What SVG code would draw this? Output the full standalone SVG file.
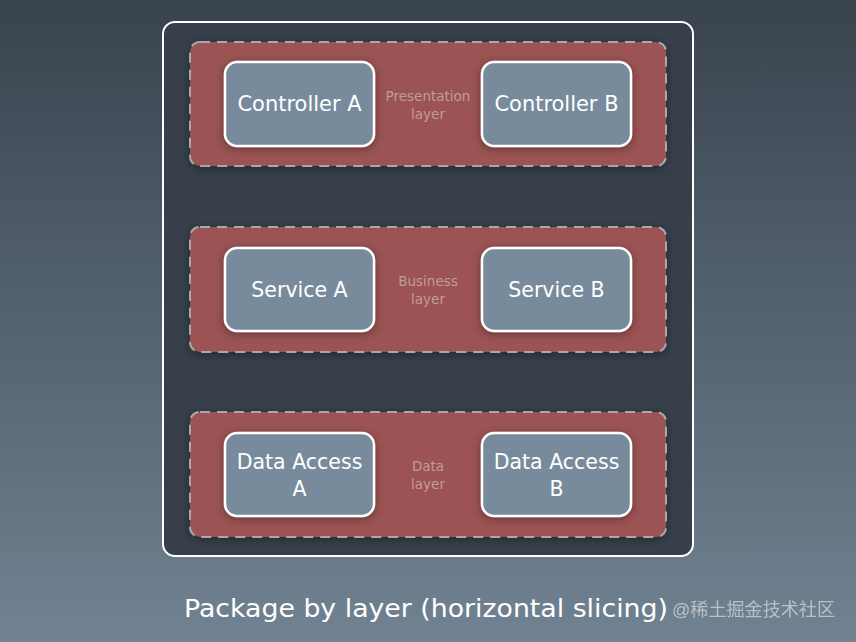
<svg xmlns="http://www.w3.org/2000/svg" width="856" height="642" viewBox="0 0 856 642">
<defs>
<linearGradient id="bg" x1="0" y1="0" x2="0" y2="1">
<stop offset="0" stop-color="#39434e"/>
<stop offset="1" stop-color="#718292"/>
</linearGradient>
<filter id="sh" x="-20%" y="-20%" width="140%" height="140%">
<feDropShadow dx="0" dy="2" stdDeviation="4" flood-color="#000" flood-opacity="0.35"/>
</filter>
</defs>
<style>
.band{fill:#9b5253;stroke:#a9a9ad;stroke-width:2;stroke-dasharray:10 7;filter:url(#sh)}
.node{fill:#788b9c;stroke:#ffffff;stroke-width:2.5;filter:url(#sh)}
.nt{font-family:"DejaVu Sans","Open Sans",sans-serif;font-size:20.5px;fill:#ffffff;text-anchor:middle}
.lt{font-family:"DejaVu Sans","Open Sans",sans-serif;font-size:13.5px;fill:#c29b9b;text-anchor:middle}
</style>
<rect width="856" height="642" fill="url(#bg)"/>
<rect x="163" y="22" width="530" height="534" rx="12" fill="#363f4a" stroke="#ffffff" stroke-width="2"/>
<g id="presentation-layer">
<rect class="band" x="190" y="42" width="476" height="124" rx="10"/>
<text class="lt" x="428" y="101">Presentation</text>
<text class="lt" x="428" y="119">layer</text>
</g>
<g id="business-layer">
<rect class="band" x="190" y="227" width="476" height="125" rx="10"/>
<text class="lt" x="428" y="286">Business</text>
<text class="lt" x="428" y="304">layer</text>
</g>
<g id="data-layer">
<rect class="band" x="190" y="412" width="476" height="125" rx="10"/>
<text class="lt" x="428" y="471">Data</text>
<text class="lt" x="428" y="489">layer</text>
</g>
<g id="controller-a">
<rect class="node" x="225" y="62" width="149" height="84" rx="12"/>
<text class="nt" x="299.5" y="111" textLength="124" lengthAdjust="spacingAndGlyphs">Controller A</text>
</g>
<g id="controller-b">
<rect class="node" x="482" y="62" width="149" height="84" rx="12"/>
<text class="nt" x="556.5" y="111" textLength="124" lengthAdjust="spacingAndGlyphs">Controller B</text>
</g>
<g id="service-a">
<rect class="node" x="225" y="248" width="149" height="83" rx="12"/>
<text class="nt" x="299.5" y="297">Service A</text>
</g>
<g id="service-b">
<rect class="node" x="482" y="248" width="149" height="83" rx="12"/>
<text class="nt" x="556.5" y="297">Service B</text>
</g>
<g id="data-access-a">
<rect class="node" x="225" y="433" width="149" height="83" rx="12"/>
<text class="nt" x="299.5" y="469">Data Access</text>
<text class="nt" x="299.5" y="496">A</text>
</g>
<g id="data-access-b">
<rect class="node" x="482" y="433" width="149" height="83" rx="12"/>
<text class="nt" x="556.5" y="469">Data Access</text>
<text class="nt" x="556.5" y="496">B</text>
</g>
<g id="connectors"></g>
<text x="184" y="617" font-family="DejaVu Sans,'Open Sans',sans-serif" font-size="25" fill="#ffffff" textLength="484" lengthAdjust="spacingAndGlyphs">Package by layer (horizontal slicing)</text>
<text x="672" y="616" font-family="'Liberation Sans','Noto Sans CJK SC',sans-serif" font-size="18" fill="#c8ccd2" opacity="0.85" textLength="163" lengthAdjust="spacingAndGlyphs">@稀土掘金技术社区</text>
</svg>
